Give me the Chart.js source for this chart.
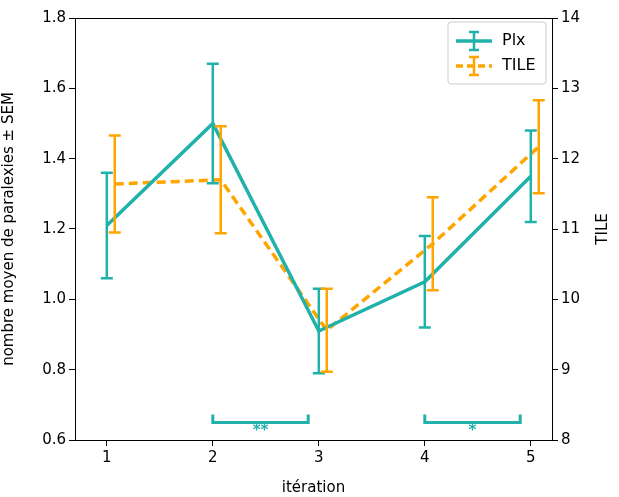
<!DOCTYPE html>
<html><head><meta charset="utf-8">
<script src="https://cdn.jsdelivr.net/npm/chart.js@4"></script>
<style>body{margin:0;background:#fff}#c{width:619px;height:497px}</style>
</head><body><div id="c"><canvas id="cv"></canvas></div>
<script>
const iterations = [1, 2, 3, 4, 5];
const plxMean = [1.21, 1.50, 0.91, 1.05, 1.35];
const plxSem = [0.15, 0.17, 0.12, 0.13, 0.13];
const tileMean = [11.64, 11.70, 9.56, 10.79, 12.17];
const tileSem = [0.69, 0.76, 0.59, 0.66, 0.66];
const tileOffset = 0.075;
const sigBrackets = [[2, 2.9, '**'], [4, 4.9, '*']];
const sigLevel = 0.65;

const teal = '#20b2aa', orange = '#ffa500';
const font = "'DejaVu Sans', sans-serif";

const errPlugin = {
  id: 'errs',
  afterDatasetsDraw(chart) {
    const {ctx, chartArea: ca, scales: {x, y, y2}} = chart;
    ctx.save();
    // top frame line
    ctx.strokeStyle = '#000'; ctx.lineWidth = 1;
    ctx.beginPath(); ctx.moveTo(ca.left, ca.top + 0.5); ctx.lineTo(ca.right, ca.top + 0.5); ctx.stroke();
    // right title, reading upward
    ctx.save(); ctx.fillStyle = '#000'; ctx.font = '15px ' + font;
    ctx.translate(611, (ca.top + ca.bottom) / 2); ctx.rotate(-Math.PI / 2);
    ctx.textAlign = 'center'; ctx.textBaseline = 'bottom'; ctx.fillText('TILE', 0, 0); ctx.restore();

    ctx.lineWidth = 2.5;
    const bars = (means, sems, off, ys, col) => {
      ctx.strokeStyle = col;
      means.forEach((m, i) => {
        const px = x.getPixelForValue(iterations[i] + off);
        const t = ys.getPixelForValue(m + sems[i]), b = ys.getPixelForValue(m - sems[i]);
        ctx.beginPath();
        ctx.moveTo(px, t); ctx.lineTo(px, b);
        ctx.moveTo(px - 6, t); ctx.lineTo(px + 6, t);
        ctx.moveTo(px - 6, b); ctx.lineTo(px + 6, b);
        ctx.stroke();
      });
    };
    bars(plxMean, plxSem, 0, y, teal);
    bars(tileMean, tileSem, tileOffset, y2, orange);
    // significance
    ctx.strokeStyle = teal; ctx.fillStyle = teal; ctx.lineWidth = 3;
    ctx.font = 'bold 15px ' + font; ctx.textAlign = 'center'; ctx.textBaseline = 'top';
    sigBrackets.forEach(([a, b, s]) => {
      const xa = x.getPixelForValue(a), xb = x.getPixelForValue(b), py = y.getPixelForValue(sigLevel);
      ctx.beginPath();
      ctx.moveTo(xa, py - 8); ctx.lineTo(xa, py); ctx.lineTo(xb, py); ctx.lineTo(xb, py - 8);
      ctx.stroke();
      ctx.fillText(s, (xa + xb) / 2, py + 1);
    });
    // legend
    const lx = 448, ly = 22, w = 98, h = 62;
    ctx.lineWidth = 1; ctx.strokeStyle = '#ccc'; ctx.fillStyle = 'rgba(255,255,255,0.8)';
    ctx.beginPath(); ctx.roundRect(lx, ly, w, h, 3); ctx.fill(); ctx.stroke();
    const item = (yy, col, dash, label) => {
      ctx.strokeStyle = col; ctx.lineWidth = 3.5; ctx.setLineDash(dash);
      ctx.beginPath(); ctx.moveTo(lx + 8, yy); ctx.lineTo(lx + 44, yy); ctx.stroke();
      ctx.setLineDash([]); ctx.lineWidth = 2.5;
      ctx.beginPath(); ctx.moveTo(lx + 26, yy - 9); ctx.lineTo(lx + 26, yy + 9);
      ctx.moveTo(lx + 21, yy - 9); ctx.lineTo(lx + 31, yy - 9);
      ctx.moveTo(lx + 21, yy + 9); ctx.lineTo(lx + 31, yy + 9); ctx.stroke();
      ctx.fillStyle = '#000'; ctx.font = '16px ' + font; ctx.textAlign = 'left'; ctx.textBaseline = 'middle';
      ctx.fillText(label, lx + 54, yy);
    };
    item(ly + 19, teal, [], 'Plx');
    item(ly + 44, orange, [7, 4], 'TILE');
    ctx.restore();
  }
};

const tickGrid = { display: true, drawOnChartArea: false, drawTicks: true, tickLength: 6, tickColor: '#000', tickWidth: 1 };

new Chart(document.getElementById('cv'), {
  type: 'line',
  data: {
    datasets: [
      { label: 'Plx', data: iterations.map((v, i) => ({x: v, y: plxMean[i]})), borderColor: teal,
        borderWidth: 3.5, pointRadius: 0, yAxisID: 'y' },
      { label: 'TILE', data: iterations.map((v, i) => ({x: v + tileOffset, y: tileMean[i]})), borderColor: orange,
        borderWidth: 3.5, borderDash: [9, 5], pointRadius: 0, yAxisID: 'y2' }
    ]
  },
  options: {
    responsive: true, maintainAspectRatio: false, animation: false,
    layout: { padding: { top: 18 } },
    plugins: { legend: { display: false }, tooltip: { enabled: false } },
    scales: {
      x: { type: 'linear', min: 0.7, max: 5.2, grid: tickGrid,
        border: { color: '#000' },
        afterFit: s => { s.height = 57; },
        afterBuildTicks: s => { s.ticks = iterations.map(v => ({value: v})); },
        ticks: { color: '#000', font: { size: 15, family: font } },
        title: { display: true, text: 'itération', color: '#000', font: { size: 15, family: font }, padding: 0 } },
      y: { position: 'left', min: 0.6, max: 1.8, grid: tickGrid,
        border: { color: '#000' },
        afterFit: s => { s.width = 75; },
        ticks: { stepSize: 0.2, color: '#000', font: { size: 15, family: font }, callback: v => v.toFixed(1) },
        title: { display: true, text: 'nombre moyen de paralexies ± SEM', color: '#000', font: { size: 15, family: font }, padding: 0 } },
      y2: { position: 'right', min: 8, max: 14, grid: tickGrid,
        border: { color: '#000' },
        afterFit: s => { s.width = 67; },
        ticks: { stepSize: 1, color: '#000', font: { size: 15, family: font } },
        title: { display: false } }
    }
  },
  plugins: [errPlugin]
});
</script></body></html>
